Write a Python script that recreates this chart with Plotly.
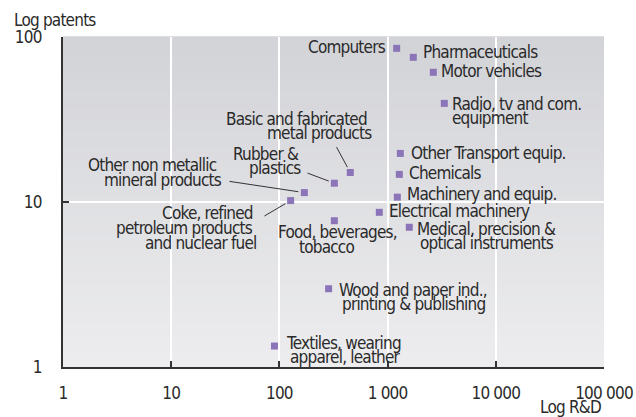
import math
import plotly.graph_objects as go

# ---- data ----
industries = [
    "Computers", "Pharmaceuticals", "Motor vehicles", "Radio, tv and com.<br>equipment",
    "Other Transport equip.", "Chemicals", "Machinery and equip.", "Electrical machinery",
    "Medical, precision &<br>optical instruments", "Food, beverages,<br>tobacco",
    "Wood and paper ind.,<br>printing & publishing", "Textiles, wearing<br>apparel, leather",
    "Basic and fabricated<br>metal products", "Rubber &<br>plastics",
    "Other non metallic<br>mineral products", "Coke, refined<br>petroleum products<br>and nuclear fuel",
]
rd = [1213, 1728, 2646, 3342, 1311, 1283, 1230, 838, 1586, 322, 285, 90, 452, 322, 170, 127]
patents = [85.4, 75.3, 61.1, 39.6, 19.7, 14.7, 10.7, 8.66, 7.03, 7.7, 2.98, 1.34, 15.1, 13.0, 11.4, 10.2]

x_tickvals = [1, 10, 100, 1000, 10000, 100000]
x_ticktext = ["1", "10", "100", "1 000", "10 000", "100 000"]
y_tickvals = [1, 10, 100]
y_ticktext = ["1", "10", "100"]

# ---- label layout (pixel offsets from each marker) ----
label_layout = [
    ("right", [(-8.7, -1.3)], None),
    ("left", [(7.7, -5.3)], None),
    ("left", [(5.7, -1.3)], None),
    ("left", [(5.7, 0.7), (5.7, 14.7)], None),
    ("left", [(8.7, -0.3)], None),
    ("left", [(7.7, -1.3)], None),
    ("left", [(7.7, -3.3)], None),
    ("left", [(7.7, -1.3)], None),
    ("left", [(5.7, 1.7), (8.7, 15.7)], None),
    ("center", [(2.7, 11.3), (-7.8, 26.3)], None),
    ("left", [(8.3, 1.3), (11.3, 15.3)], None),
    ("left", [(9.7, -3.0), (13.7, 11.0)], None),
    ("right", [(18.7, -53.3), (23.7, -39.3)], (-14.3, -26.3)),
    ("right", [(-33.3, -29.3), (-31.3, -15.3)], (-27.3, -10.3)),
    ("right", [(-85.3, -27.3), (-80.3, -12.3)], (-75.3, -11.3)),
    ("right", [(-35.7, 12.7), (-35.7, 27.7), (-31.7, 42.7)], (-26.7, 15.7)),
]

FONT = "Liberation Sans Narrow, Arial Narrow, DejaVu Sans Condensed, sans-serif"
TXT = "#2a2a2a"
FS = 17
SP = "-0.8px"


def tight(s):
    return '<span style="letter-spacing:%s">%s</span>' % (SP, s)


fig = go.Figure()
fig.add_trace(go.Scatter(
    x=rd, y=patents, mode="markers",
    marker=dict(symbol="square", size=7, color="#8b74b8", line=dict(width=0)),
    hoverinfo="skip", showlegend=False,
))

annotations = []
for name, xv, yv, (xa, lines, leader) in zip(industries, rd, patents, label_layout):
    parts = name.split("<br>")
    for part, (dx, dy) in zip(parts, lines):
        annotations.append(dict(
            x=math.log10(xv), y=math.log10(yv), xref="x", yref="y",
            text=tight(part), showarrow=False, xanchor=xa, yanchor="middle",
            xshift=dx, yshift=-dy, font=dict(family=FONT, size=FS, color=TXT),
        ))
    if leader:
        annotations.append(dict(
            x=math.log10(xv), y=math.log10(yv), xref="x", yref="y",
            text=" ", showarrow=True, ax=leader[0], ay=leader[1],
            arrowhead=0, arrowwidth=1, arrowcolor="#333", standoff=6,
            font=dict(size=1), borderpad=0,
        ))

W, H = 636, 417
L, R, T, B = 63, 32, 37, 50
pw, ph = W - L - R, H - T - B

annotations.append(dict(x=(12 - L) / pw, y=(397 - B) / ph, xref="paper", yref="paper",
                        text=tight("Log patents"), showarrow=False, xanchor="left", yanchor="middle",
                        font=dict(family=FONT, size=FS, color=TXT)))
annotations.append(dict(x=(603 - L) / pw, y=(10 - B) / ph, xref="paper", yref="paper",
                        text=tight("Log R&D"), showarrow=False, xanchor="right", yanchor="middle",
                        font=dict(family=FONT, size=FS, color=TXT)))

# vertical gradient background
shapes = []
N = 60
top = (210, 211, 215)
bot = (237, 237, 239)
for i in range(N):
    t = (i + 0.5) / N
    c = tuple(round(bot[k] + (top[k] - bot[k]) * t) for k in range(3))
    shapes.append(dict(type="rect", xref="x domain", yref="y domain",
                       x0=0, x1=1, y0=i / N, y1=(i + 1) / N + 0.002,
                       fillcolor="rgb(%d,%d,%d)" % c, line=dict(width=0), layer="below"))

fig.update_layout(
    width=W, height=H,
    margin=dict(l=L, r=R, t=T, b=B, autoexpand=False),
    paper_bgcolor="white", plot_bgcolor="rgba(0,0,0,0)",
    shapes=shapes, annotations=annotations,
    font=dict(family=FONT, size=FS, color=TXT),
)
fig.update_xaxes(
    type="log", range=[0, 5], tickvals=x_tickvals, ticktext=[tight(t) for t in x_ticktext],
    showgrid=True, gridcolor="white", gridwidth=1.5,
    showline=True, linecolor="#333", linewidth=2,
    ticks="inside", ticklen=6, tickwidth=1.5, tickcolor="#333",
    ticklabelstandoff=10, tickfont=dict(family=FONT, size=FS, color=TXT),
    zeroline=False, automargin=False,
)
fig.update_yaxes(
    type="log", range=[0, 2], tickvals=y_tickvals, ticktext=[tight(t) for t in y_ticktext],
    showgrid=True, gridcolor="white", gridwidth=1.5,
    showline=True, linecolor="#333", linewidth=2,
    ticks="inside", ticklen=6, tickwidth=1.5, tickcolor="#333",
    ticklabelstandoff=16, tickfont=dict(family=FONT, size=FS, color=TXT),
    zeroline=False, automargin=False,
)

fig.write_html("out.html", config={"displayModeBar": False},
               post_script="document.body.style.margin='0';")
